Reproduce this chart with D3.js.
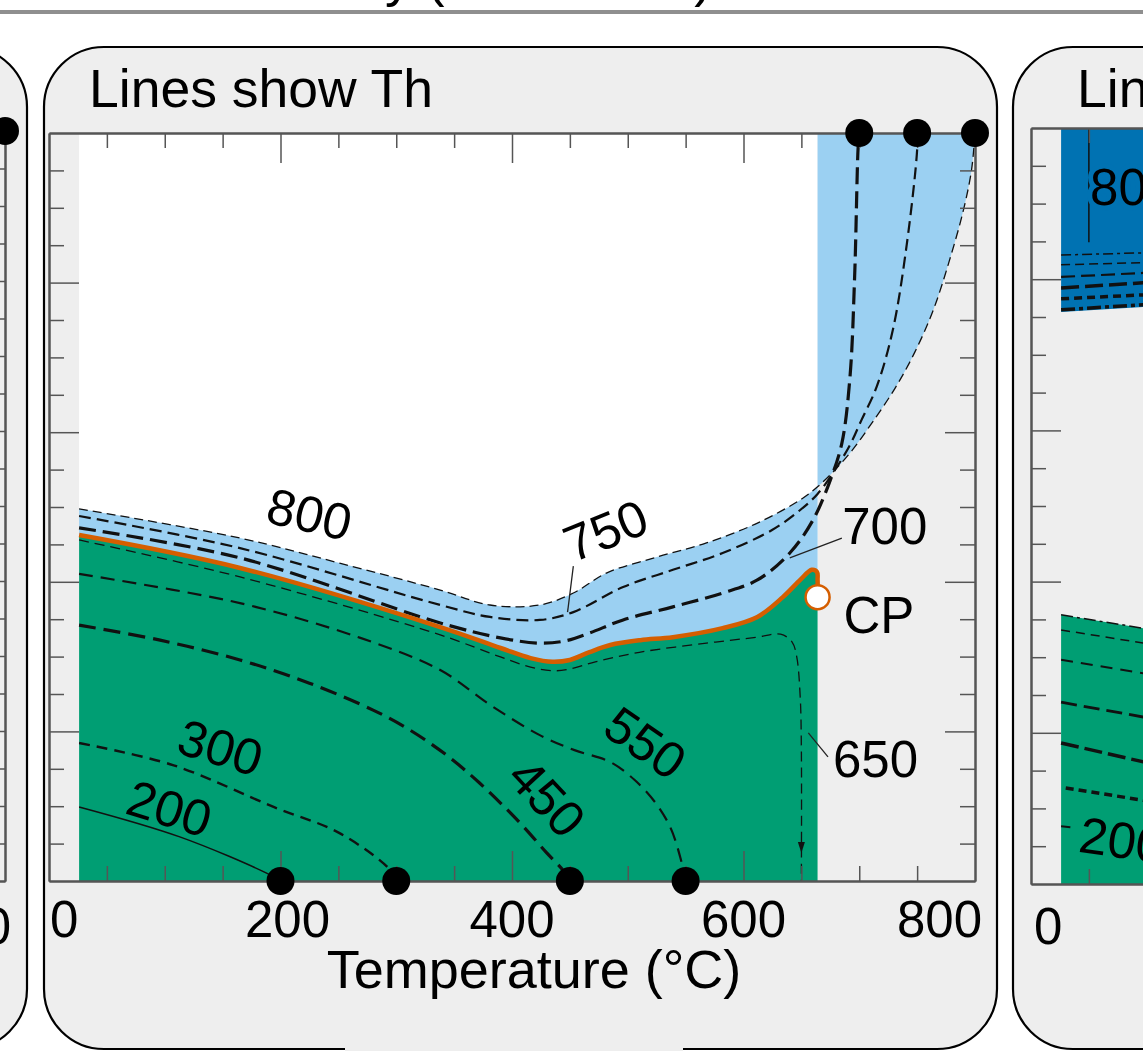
<!DOCTYPE html>
<html>
<head>
<meta charset="utf-8">
<script src="https://d3js.org/d3.v7.min.js"></script>
<style>
  body { margin: 0; background: #fff; }
  svg { display: block; font-family: "Liberation Sans", Arial, sans-serif; }
</style>
</head>
<body>
<svg width="1143" height="1051"></svg>
<script>
// axis values
var tempLabels = [0, 200, 400, 600, 800];
var tempMajor = [200, 400, 600];
var tempMinor = [50, 100, 150, 250, 300, 350, 450, 500, 550, 650, 700, 750];
var presMajor = [400, 800, 1200, 1600];
var presMinor = [100, 200, 300, 500, 600, 700, 900, 1000, 1100, 1300, 1400, 1500, 1700, 1800, 1900];

// homogenisation temperatures (dots on the axes)
var thBottom = [200, 300, 450, 550];
var thTop = [700, 750, 800];
var critPoint = [664, 759];

// liquid-vapour curve, [T, P]
var lvCurve = [[26,925],[165,837],[338,679],[390,623],[416,596],[435,586],[450,591],[467,612],[485,631],[511,644],[539,652],[582,676],[612,706],[634,759],[649,805],[659,832],[663.5,826],[664,805],[664,759]];

// isochores, labelled by Th
var iso800 = [[26,995],[165,917],[251,850],[338,778],[381,738],[424,738],[453,770],[482,824],[525,866],[568,904],[612,957],[649,1019],[664,1054],[679,1099],[694,1152],[711,1225],[731,1318],[748,1414],[764,1527],[778,1660],[790,1794],[797,1901],[800,2000]];
var iso750 = [[26,976],[165,890],[338,738],[381,706],[424,698],[453,719],[496,786],[539,832],[582,877],[625,939],[649,992],[664,1035],[679,1099],[692,1166],[702,1233],[715,1321],[729,1473],[741,1701],[750,1955],[750,2000]];
var iso700 = [[26,944],[165,864],[338,690],[390,650],[424,636],[446,642],[467,663],[496,698],[539,733],[582,770],[612,805],[640,877],[660,965],[675,1072],[685,1171],[692,1348],[696,1615],[699,1960],[700,2000]];
var iso650 = [[26,912],[165,813],[338,658],[390,599],[416,572],[437,562],[454,570],[472,586],[511,612],[568,636],[612,652],[632,660],[642,639],[646,599],[649,492],[650,350],[650,0]];
var iso550 = [[26,821],[165,743],[269,650],[338,564],[381,471],[424,390],[454,350],[485,318],[506,270],[524,209],[537,142],[546,56],[550,0]];
var iso450 = [[26,684],[96,644],[165,591],[225,529],[280,457],[309,409],[342,340],[372,262],[407,155],[430,75],[444,29],[450,0]];
var iso300 = [[26,369],[107,310],[194,198],[251,128],[295,29],[300,0]];
var iso200 = [[26,198],[113,118],[188,21],[200,0]];

// right-hand panel (only its left edge is visible)
var rVapourEdge = [[26,1513],[100,1527]];
var rBlue1 = [[26,1664],[100,1670]];
var rBlue2 = [[26,1638],[100,1644]];
var rBlue3 = [[26,1606],[100,1617]];
var rBlue4 = [[26,1577],[100,1591]];
var rBlue5 = [[26,1548],[100,1559]];
var rBlue6 = [[26,1519],[100,1533]];
var rLiquidEdge = [[26,712],[100,675]];
var rGreen2 = [[26,672],[100,636]];
var rGreen3 = [[26,593],[100,556]];
var rGreen4 = [[26,481],[100,440]];
var rGreen5 = [[26,373],[100,321]];
var rGreen6 = [[30,254],[100,220]];
var rGreen7 = [[26,153],[34,150]];

var svg = d3.select("svg");
var fontSize = 51;
var titleSize = 53.5;
var panelFill = "#eeeeee";
var lightBlue = "#9bd0f2", darkBlue = "#0072b2", green = "#009e73", orange = "#d55e00";

var x = d3.scaleLinear().domain([0, 800]).range([49, 975]);
var y = d3.scaleLinear().domain([0, 2000]).range([881, 133]);
// neighbour panels use the same temperature scale, shifted sideways
var xL = d3.scaleLinear().domain([0, 800]).range([-921, 5]);
var yL = d3.scaleLinear().domain([0, 2000]).range([881, 131]);
var xR = d3.scaleLinear().domain([0, 800]).range([1031, 1957]);
var yR = d3.scaleLinear().domain([0, 2000]).range([884, 128]);

function smooth(sx, sy) {
    return d3.line()
        .x(function(d) { return sx(d[0]); })
        .y(function(d) { return sy(d[1]); })
        .curve(d3.curveCatmullRom.alpha(0.5));
}
var path = smooth(x, y);
var pathR = d3.line().x(function(d) { return xR(d[0]); }).y(function(d) { return yR(d[1]); });

// title of the figure, cut off at the top, and the rule under it
svg.append("text").attr("x", 712).attr("y", -4).attr("text-anchor", "end")
   .style("font-size", titleSize + "px").text("Salinity (wt % NaCl)");
svg.append("line").attr("x1", 0).attr("x2", 1143).attr("y1", 12).attr("y2", 12)
   .attr("stroke", "#8f8f8f").attr("stroke-width", 4);

// panel boxes
function panel(x0, x1) {
    svg.append("rect").attr("x", x0).attr("y", 47).attr("width", x1 - x0).attr("height", 1002)
       .attr("rx", 60).attr("fill", panelFill).attr("stroke", "#000").attr("stroke-width", 2.2);
}
panel(-930, 27);
panel(44, 997);
panel(1013, 1980);
// the middle box dips below the picture edge here
svg.append("rect").attr("x", 345).attr("y", 1047).attr("width", 338).attr("height", 5).attr("fill", panelFill);

// ---- middle panel fields
svg.append("rect")
   .attr("x", x(26)).attr("y", y(2000))
   .attr("width", x(664) - x(26)).attr("height", y(0) - y(2000))
   .attr("fill", "#fff");

var lvBack = lvCurve.slice().reverse();
svg.append("path")
   .attr("d", path(iso800) + "L" + x(664) + "," + y(2000) + path(lvBack).replace(/^M/, "L") + "Z")
   .attr("fill", lightBlue);

svg.append("path")
   .attr("d", path(lvCurve) + "L" + x(664) + "," + y(0) + "L" + x(26) + "," + y(0) + "Z")
   .attr("fill", green);

// isochores
var isoLines = [
    {d: iso800, w: 1.3, dash: "9,5"},
    {d: iso750, w: 2.2, dash: "12,6"},
    {d: iso700, w: 3.2, dash: "17,7"},
    {d: iso650, w: 1.3, dash: "10,6"},
    {d: iso550, w: 2.2, dash: "14,8"},
    {d: iso450, w: 3.2, dash: "17,8"},
    {d: iso300, w: 2.4, dash: "11,7"},
    {d: iso200, w: 1.5, dash: null}
];
svg.selectAll("path.iso")
   .data(isoLines)
   .enter()
   .append("path")
   .attr("class", "iso")
   .attr("d", function(d) { return path(d.d); })
   .attr("fill", "none")
   .attr("stroke", "#111")
   .attr("stroke-width", function(d) { return d.w; })
   .attr("stroke-dasharray", function(d) { return d.dash; });

// arrow head on the 650 isochore
svg.append("path")
   .attr("transform", "translate(" + x(650) + "," + y(75) + ")")
   .attr("d", "M-3.5,-11L0,0L3.5,-11Z")
   .attr("fill", "#111");

// liquid-vapour curve
svg.append("path")
   .attr("d", path(lvCurve))
   .attr("fill", "none")
   .attr("stroke", orange)
   .attr("stroke-width", 4.5)
   .attr("stroke-linejoin", "round");

// ---- axes frame with inward ticks
function frame(sx, sy) {
    var sides = [
        [d3.axisTop(sx), "translate(0," + sy(2000) + ")", tempMinor, tempMajor],
        [d3.axisBottom(sx), "translate(0," + sy(0) + ")", tempMinor, tempMajor],
        [d3.axisLeft(sy), "translate(" + sx(0) + ",0)", presMinor, presMajor],
        [d3.axisRight(sy), "translate(" + sx(800) + ",0)", presMinor, presMajor]
    ];
    sides.forEach(function(s) {
        [[s[2], 15], [s[3], 30]].forEach(function(t) {
            var a = svg.append("g")
                .attr("transform", s[1])
                .call(s[0].tickValues(t[0]).tickSize(-t[1]).tickSizeOuter(0).tickFormat(""));
            a.selectAll(".tick line").attr("stroke", "#555").attr("stroke-width", 1.5);
            a.select(".domain").attr("stroke", "#555").attr("stroke-width", 2);
        });
    });
}

// ---- right panel fields
svg.append("path")
   .attr("d", pathR([[26, 2000], [100, 2000]]) + pathR(rVapourEdge.slice().reverse()).replace(/^M/, "L") + "Z")
   .attr("fill", darkBlue);
svg.append("path")
   .attr("d", pathR(rLiquidEdge) + "L" + xR(100) + "," + yR(0) + "L" + xR(26) + "," + yR(0) + "Z")
   .attr("fill", green);

var rLines = [
    {d: rBlue1, w: 1.5, dash: "10,4,3,4"},
    {d: rBlue2, w: 1.5, dash: "9,5"},
    {d: rBlue3, w: 2.2, dash: "14,6"},
    {d: rBlue4, w: 3.5, dash: "18,6"},
    {d: rBlue5, w: 3.5, dash: "8,5"},
    {d: rBlue6, w: 3.5, dash: "14,4,4,4"},
    {d: rLiquidEdge, w: 1.5, dash: "12,4,3,4"},
    {d: rGreen2, w: 1.5, dash: "9,6"},
    {d: rGreen3, w: 2, dash: "12,8"},
    {d: rGreen4, w: 2.8, dash: "16,7"},
    {d: rGreen5, w: 3.5, dash: "18,6"},
    {d: rGreen6, w: 3.5, dash: "8,5"},
    {d: rGreen7, w: 2, dash: null}
];
svg.selectAll("path.riso")
   .data(rLines)
   .enter()
   .append("path")
   .attr("class", "riso")
   .attr("d", function(d) { return pathR(d.d); })
   .attr("fill", "none")
   .attr("stroke", "#111")
   .attr("stroke-width", function(d) { return d.w; })
   .attr("stroke-dasharray", function(d) { return d.dash; });

svg.append("line")
   .attr("x1", xR(50)).attr("x2", xR(50)).attr("y1", yR(2000)).attr("y2", yR(1698))
   .attr("stroke", "#111").attr("stroke-width", 1.5);

frame(xL, yL);
frame(x, y);
frame(xR, yR);

svg.append("text")
   .attr("x", xR(51)).attr("y", yR(1796))
   .attr("stroke", darkBlue).attr("stroke-width", 10).attr("paint-order", "stroke")
   .style("font-size", fontSize + "px").text("800");
svg.append("text")
   .attr("transform", "translate(" + xR(40) + "," + yR(85) + ") rotate(8)")
   .style("font-size", fontSize + "px").text("200");

// ---- dots at Th
svg.selectAll("circle.bot")
   .data(thBottom).enter().append("circle")
   .attr("cx", function(d) { return x(d); }).attr("cy", y(0)).attr("r", 14).attr("fill", "#000");
svg.selectAll("circle.top")
   .data(thTop).enter().append("circle")
   .attr("cx", function(d) { return x(d); }).attr("cy", y(2000)).attr("r", 14).attr("fill", "#000");
svg.append("circle").attr("cx", xL(800)).attr("cy", yL(2000)).attr("r", 14).attr("fill", "#000");

// critical point
svg.append("circle")
   .attr("cx", x(critPoint[0])).attr("cy", y(critPoint[1])).attr("r", 12)
   .attr("fill", "#fff").attr("stroke", orange).attr("stroke-width", 2.5);

// ---- line labels
var labelPlace = [
    {t: "800", at: [225, 980], rot: 13},
    {t: "750", at: [481, 936], rot: -22},
    {t: "700", at: [722, 947], rot: 0},
    {t: "CP", at: [717, 709], rot: 0},
    {t: "650", at: [714, 324], rot: 0},
    {t: "550", at: [515, 369], rot: 35},
    {t: "450", at: [430, 222], rot: 47},
    {t: "300", at: [148, 356], rot: 17},
    {t: "200", at: [104, 193], rot: 17}
];
svg.selectAll("text.lab")
   .data(labelPlace)
   .enter()
   .append("text")
   .attr("class", "lab")
   .attr("transform", function(d) {
       return "translate(" + x(d.at[0]) + "," + y(d.at[1]) + ") rotate(" + d.rot + ")";
   })
   .attr("text-anchor", "middle")
   .attr("dominant-baseline", "central")
   .style("font-size", fontSize + "px")
   .text(function(d) { return d.t; });

var leaders = [
    [[453, 842], [448, 719]],
    [[685, 917], [640, 864]],
    [[656, 396], [673, 332]]
];
svg.selectAll("line.lead")
   .data(leaders)
   .enter()
   .append("line")
   .attr("x1", function(d) { return x(d[0][0]); })
   .attr("y1", function(d) { return y(d[0][1]); })
   .attr("x2", function(d) { return x(d[1][0]); })
   .attr("y2", function(d) { return y(d[1][1]); })
   .attr("stroke", "#222").attr("stroke-width", 1.3);

// ---- tick labels and titles
svg.selectAll("text.tl")
   .data(tempLabels)
   .enter()
   .append("text")
   .attr("x", function(d) { return d === 0 ? x(d) + 1 : d === 800 ? x(d) + 7 : d === 200 ? x(d) + 7 : x(d); })
   .attr("y", 937)
   .attr("text-anchor", function(d) { return d === 0 ? "start" : d === 800 ? "end" : "middle"; })
   .style("font-size", fontSize + "px")
   .text(function(d) { return d; });

svg.append("text").attr("x", xL(800) + 6).attr("y", 944).attr("text-anchor", "end")
   .style("font-size", fontSize + "px").text("800");
svg.append("text").attr("x", xR(0) + 3).attr("y", 944)
   .style("font-size", fontSize + "px").text("0");

svg.append("text").attr("x", 534).attr("y", 988).attr("text-anchor", "middle")
   .style("font-size", "54px").text("Temperature (°C)");
svg.append("text").attr("x", 89).attr("y", 107)
   .style("font-size", titleSize + "px").text("Lines show Th");
svg.append("text").attr("x", 1077).attr("y", 107)
   .style("font-size", titleSize + "px").text("Lines show Th");
</script>
</body>
</html>
